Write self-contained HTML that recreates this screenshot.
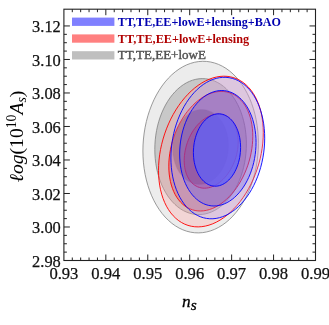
<!DOCTYPE html>
<html><head><meta charset="utf-8"><title>plot</title>
<style>html,body{margin:0;padding:0;background:#fff;}svg{display:block;will-change:transform;}</style>
</head><body>
<svg width="329" height="325" viewBox="0 0 329 325">
<rect width="329" height="325" fill="#fff"/>
<path d="M258.40,143.24 L258.26,137.27 L257.84,131.35 L257.14,125.50 L256.16,119.76 L254.92,114.16 L253.41,108.71 L251.64,103.45 L249.62,98.40 L247.37,93.60 L244.89,89.05 L242.19,84.78 L239.29,80.82 L236.20,77.18 L232.94,73.88 L229.53,70.94 L225.97,68.37 L222.28,66.18 L218.50,64.39 L214.62,63.00 L210.68,62.02 L206.69,61.45 L202.67,61.30 L198.63,61.57 L194.61,62.26 L190.62,63.36 L186.68,64.87 L182.80,66.78 L179.02,69.07 L175.33,71.75 L171.78,74.80 L168.36,78.20 L165.10,81.93 L162.01,85.99 L159.11,90.34 L156.41,94.96 L153.93,99.84 L151.68,104.95 L149.66,110.27 L147.89,115.76 L146.38,121.41 L145.14,127.19 L144.16,133.06 L143.46,138.99 L143.04,144.97 L142.90,150.96 L143.04,156.93 L143.46,162.85 L144.16,168.70 L145.14,174.44 L146.38,180.04 L147.89,185.49 L149.66,190.75 L151.68,195.80 L153.93,200.60 L156.41,205.15 L159.11,209.42 L162.01,213.38 L165.10,217.02 L168.36,220.32 L171.77,223.26 L175.33,225.83 L179.02,228.02 L182.80,229.81 L186.68,231.20 L190.62,232.18 L194.61,232.75 L198.63,232.90 L202.67,232.63 L206.69,231.94 L210.68,230.84 L214.62,229.33 L218.50,227.42 L222.28,225.13 L225.97,222.45 L229.53,219.40 L232.94,216.00 L236.20,212.27 L239.29,208.21 L242.19,203.86 L244.89,199.24 L247.37,194.36 L249.62,189.25 L251.64,183.93 L253.41,178.44 L254.92,172.79 L256.16,167.01 L257.14,161.14 L257.84,155.21 L258.26,149.23ZM246.40,143.88 L246.29,139.15 L245.95,134.45 L245.40,129.81 L244.63,125.26 L243.64,120.81 L242.44,116.48 L241.04,112.30 L239.44,108.29 L237.65,104.46 L235.68,100.84 L233.55,97.44 L231.25,94.29 L228.80,91.38 L226.21,88.75 L223.50,86.40 L220.68,84.34 L217.76,82.58 L214.75,81.14 L211.68,80.01 L208.55,79.21 L205.39,78.74 L202.20,78.60 L199.00,78.79 L195.81,79.31 L192.65,80.16 L189.52,81.33 L186.45,82.82 L183.44,84.62 L180.52,86.72 L177.70,89.12 L174.99,91.79 L172.40,94.73 L169.95,97.93 L167.65,101.36 L165.52,105.01 L163.55,108.86 L161.76,112.90 L160.16,117.10 L158.76,121.45 L157.56,125.92 L156.57,130.49 L155.80,135.13 L155.25,139.84 L154.91,144.57 L154.80,149.32 L154.91,154.05 L155.25,158.75 L155.80,163.39 L156.57,167.94 L157.56,172.39 L158.76,176.72 L160.16,180.90 L161.76,184.91 L163.55,188.74 L165.52,192.36 L167.65,195.76 L169.95,198.91 L172.40,201.82 L174.99,204.45 L177.70,206.80 L180.52,208.86 L183.44,210.62 L186.45,212.06 L189.52,213.19 L192.65,213.99 L195.81,214.46 L199.00,214.60 L202.20,214.41 L205.39,213.89 L208.55,213.04 L211.68,211.87 L214.75,210.38 L217.76,208.58 L220.68,206.48 L223.50,204.08 L226.21,201.41 L228.80,198.47 L231.25,195.27 L233.55,191.84 L235.68,188.19 L237.65,184.34 L239.44,180.30 L241.04,176.10 L242.44,171.75 L243.64,167.28 L244.63,162.71 L245.40,158.07 L245.95,153.36 L246.29,148.63Z" fill="rgb(236,236,236)" fill-opacity="1" fill-rule="evenodd" stroke="none"/>
<path d="M246.40,143.88 L246.29,139.15 L245.95,134.45 L245.40,129.81 L244.63,125.26 L243.64,120.81 L242.44,116.48 L241.04,112.30 L239.44,108.29 L237.65,104.46 L235.68,100.84 L233.55,97.44 L231.25,94.29 L228.80,91.38 L226.21,88.75 L223.50,86.40 L220.68,84.34 L217.76,82.58 L214.75,81.14 L211.68,80.01 L208.55,79.21 L205.39,78.74 L202.20,78.60 L199.00,78.79 L195.81,79.31 L192.65,80.16 L189.52,81.33 L186.45,82.82 L183.44,84.62 L180.52,86.72 L177.70,89.12 L174.99,91.79 L172.40,94.73 L169.95,97.93 L167.65,101.36 L165.52,105.01 L163.55,108.86 L161.76,112.90 L160.16,117.10 L158.76,121.45 L157.56,125.92 L156.57,130.49 L155.80,135.13 L155.25,139.84 L154.91,144.57 L154.80,149.32 L154.91,154.05 L155.25,158.75 L155.80,163.39 L156.57,167.94 L157.56,172.39 L158.76,176.72 L160.16,180.90 L161.76,184.91 L163.55,188.74 L165.52,192.36 L167.65,195.76 L169.95,198.91 L172.40,201.82 L174.99,204.45 L177.70,206.80 L180.52,208.86 L183.44,210.62 L186.45,212.06 L189.52,213.19 L192.65,213.99 L195.81,214.46 L199.00,214.60 L202.20,214.41 L205.39,213.89 L208.55,213.04 L211.68,211.87 L214.75,210.38 L217.76,208.58 L220.68,206.48 L223.50,204.08 L226.21,201.41 L228.80,198.47 L231.25,195.27 L233.55,191.84 L235.68,188.19 L237.65,184.34 L239.44,180.30 L241.04,176.10 L242.44,171.75 L243.64,167.28 L244.63,162.71 L245.40,158.07 L245.95,153.36 L246.29,148.63ZM228.60,145.50 L228.53,142.89 L228.33,140.30 L227.99,137.74 L227.52,135.23 L226.91,132.77 L226.18,130.39 L225.32,128.08 L224.35,125.87 L223.25,123.76 L222.05,121.77 L220.74,119.89 L219.34,118.15 L217.84,116.55 L216.26,115.10 L214.60,113.80 L212.87,112.66 L211.09,111.70 L209.25,110.90 L207.37,110.28 L205.46,109.84 L203.53,109.58 L201.58,109.50 L199.62,109.61 L197.67,109.89 L195.74,110.36 L193.83,111.01 L191.95,111.83 L190.11,112.82 L188.33,113.98 L186.60,115.30 L184.94,116.77 L183.36,118.40 L181.86,120.16 L180.46,122.05 L179.15,124.06 L177.95,126.19 L176.85,128.42 L175.88,130.73 L175.02,133.13 L174.29,135.59 L173.68,138.11 L173.21,140.68 L172.87,143.27 L172.67,145.88 L172.60,148.50 L172.67,151.11 L172.87,153.70 L173.21,156.26 L173.68,158.77 L174.29,161.23 L175.02,163.61 L175.88,165.92 L176.85,168.13 L177.95,170.24 L179.15,172.23 L180.46,174.11 L181.86,175.85 L183.36,177.45 L184.94,178.90 L186.60,180.20 L188.33,181.34 L190.11,182.30 L191.95,183.10 L193.83,183.72 L195.74,184.16 L197.67,184.42 L199.62,184.50 L201.58,184.39 L203.53,184.11 L205.46,183.64 L207.37,182.99 L209.25,182.17 L211.09,181.18 L212.87,180.02 L214.60,178.70 L216.26,177.23 L217.84,175.60 L219.34,173.84 L220.74,171.95 L222.05,169.94 L223.25,167.81 L224.35,165.58 L225.32,163.27 L226.18,160.87 L226.91,158.41 L227.52,155.89 L227.99,153.32 L228.33,150.73 L228.53,148.12Z" fill="rgb(200,200,200)" fill-opacity="1" fill-rule="evenodd" stroke="none"/>
<path d="M228.60,145.50 L228.53,142.89 L228.33,140.30 L227.99,137.74 L227.52,135.23 L226.91,132.77 L226.18,130.39 L225.32,128.08 L224.35,125.87 L223.25,123.76 L222.05,121.77 L220.74,119.89 L219.34,118.15 L217.84,116.55 L216.26,115.10 L214.60,113.80 L212.87,112.66 L211.09,111.70 L209.25,110.90 L207.37,110.28 L205.46,109.84 L203.53,109.58 L201.58,109.50 L199.62,109.61 L197.67,109.89 L195.74,110.36 L193.83,111.01 L191.95,111.83 L190.11,112.82 L188.33,113.98 L186.60,115.30 L184.94,116.77 L183.36,118.40 L181.86,120.16 L180.46,122.05 L179.15,124.06 L177.95,126.19 L176.85,128.42 L175.88,130.73 L175.02,133.13 L174.29,135.59 L173.68,138.11 L173.21,140.68 L172.87,143.27 L172.67,145.88 L172.60,148.50 L172.67,151.11 L172.87,153.70 L173.21,156.26 L173.68,158.77 L174.29,161.23 L175.02,163.61 L175.88,165.92 L176.85,168.13 L177.95,170.24 L179.15,172.23 L180.46,174.11 L181.86,175.85 L183.36,177.45 L184.94,178.90 L186.60,180.20 L188.33,181.34 L190.11,182.30 L191.95,183.10 L193.83,183.72 L195.74,184.16 L197.67,184.42 L199.62,184.50 L201.58,184.39 L203.53,184.11 L205.46,183.64 L207.37,182.99 L209.25,182.17 L211.09,181.18 L212.87,180.02 L214.60,178.70 L216.26,177.23 L217.84,175.60 L219.34,173.84 L220.74,171.95 L222.05,169.94 L223.25,167.81 L224.35,165.58 L225.32,163.27 L226.18,160.87 L226.91,158.41 L227.52,155.89 L227.99,153.32 L228.33,150.73 L228.53,148.12Z" fill="rgb(142,142,142)" fill-opacity="1" fill-rule="evenodd" stroke="none"/>
<path d="M258.40,143.24 L258.26,137.27 L257.84,131.35 L257.14,125.50 L256.16,119.76 L254.92,114.16 L253.41,108.71 L251.64,103.45 L249.62,98.40 L247.37,93.60 L244.89,89.05 L242.19,84.78 L239.29,80.82 L236.20,77.18 L232.94,73.88 L229.53,70.94 L225.97,68.37 L222.28,66.18 L218.50,64.39 L214.62,63.00 L210.68,62.02 L206.69,61.45 L202.67,61.30 L198.63,61.57 L194.61,62.26 L190.62,63.36 L186.68,64.87 L182.80,66.78 L179.02,69.07 L175.33,71.75 L171.78,74.80 L168.36,78.20 L165.10,81.93 L162.01,85.99 L159.11,90.34 L156.41,94.96 L153.93,99.84 L151.68,104.95 L149.66,110.27 L147.89,115.76 L146.38,121.41 L145.14,127.19 L144.16,133.06 L143.46,138.99 L143.04,144.97 L142.90,150.96 L143.04,156.93 L143.46,162.85 L144.16,168.70 L145.14,174.44 L146.38,180.04 L147.89,185.49 L149.66,190.75 L151.68,195.80 L153.93,200.60 L156.41,205.15 L159.11,209.42 L162.01,213.38 L165.10,217.02 L168.36,220.32 L171.77,223.26 L175.33,225.83 L179.02,228.02 L182.80,229.81 L186.68,231.20 L190.62,232.18 L194.61,232.75 L198.63,232.90 L202.67,232.63 L206.69,231.94 L210.68,230.84 L214.62,229.33 L218.50,227.42 L222.28,225.13 L225.97,222.45 L229.53,219.40 L232.94,216.00 L236.20,212.27 L239.29,208.21 L242.19,203.86 L244.89,199.24 L247.37,194.36 L249.62,189.25 L251.64,183.93 L253.41,178.44 L254.92,172.79 L256.16,167.01 L257.14,161.14 L257.84,155.21 L258.26,149.23Z" fill="none" stroke="rgb(130,130,130)" stroke-opacity="1" stroke-width="0.8"/>
<path d="M246.40,143.88 L246.29,139.15 L245.95,134.45 L245.40,129.81 L244.63,125.26 L243.64,120.81 L242.44,116.48 L241.04,112.30 L239.44,108.29 L237.65,104.46 L235.68,100.84 L233.55,97.44 L231.25,94.29 L228.80,91.38 L226.21,88.75 L223.50,86.40 L220.68,84.34 L217.76,82.58 L214.75,81.14 L211.68,80.01 L208.55,79.21 L205.39,78.74 L202.20,78.60 L199.00,78.79 L195.81,79.31 L192.65,80.16 L189.52,81.33 L186.45,82.82 L183.44,84.62 L180.52,86.72 L177.70,89.12 L174.99,91.79 L172.40,94.73 L169.95,97.93 L167.65,101.36 L165.52,105.01 L163.55,108.86 L161.76,112.90 L160.16,117.10 L158.76,121.45 L157.56,125.92 L156.57,130.49 L155.80,135.13 L155.25,139.84 L154.91,144.57 L154.80,149.32 L154.91,154.05 L155.25,158.75 L155.80,163.39 L156.57,167.94 L157.56,172.39 L158.76,176.72 L160.16,180.90 L161.76,184.91 L163.55,188.74 L165.52,192.36 L167.65,195.76 L169.95,198.91 L172.40,201.82 L174.99,204.45 L177.70,206.80 L180.52,208.86 L183.44,210.62 L186.45,212.06 L189.52,213.19 L192.65,213.99 L195.81,214.46 L199.00,214.60 L202.20,214.41 L205.39,213.89 L208.55,213.04 L211.68,211.87 L214.75,210.38 L217.76,208.58 L220.68,206.48 L223.50,204.08 L226.21,201.41 L228.80,198.47 L231.25,195.27 L233.55,191.84 L235.68,188.19 L237.65,184.34 L239.44,180.30 L241.04,176.10 L242.44,171.75 L243.64,167.28 L244.63,162.71 L245.40,158.07 L245.95,153.36 L246.29,148.63Z" fill="none" stroke="rgb(125,125,125)" stroke-opacity="1" stroke-width="0.8"/>
<path d="M228.60,145.50 L228.53,142.89 L228.33,140.30 L227.99,137.74 L227.52,135.23 L226.91,132.77 L226.18,130.39 L225.32,128.08 L224.35,125.87 L223.25,123.76 L222.05,121.77 L220.74,119.89 L219.34,118.15 L217.84,116.55 L216.26,115.10 L214.60,113.80 L212.87,112.66 L211.09,111.70 L209.25,110.90 L207.37,110.28 L205.46,109.84 L203.53,109.58 L201.58,109.50 L199.62,109.61 L197.67,109.89 L195.74,110.36 L193.83,111.01 L191.95,111.83 L190.11,112.82 L188.33,113.98 L186.60,115.30 L184.94,116.77 L183.36,118.40 L181.86,120.16 L180.46,122.05 L179.15,124.06 L177.95,126.19 L176.85,128.42 L175.88,130.73 L175.02,133.13 L174.29,135.59 L173.68,138.11 L173.21,140.68 L172.87,143.27 L172.67,145.88 L172.60,148.50 L172.67,151.11 L172.87,153.70 L173.21,156.26 L173.68,158.77 L174.29,161.23 L175.02,163.61 L175.88,165.92 L176.85,168.13 L177.95,170.24 L179.15,172.23 L180.46,174.11 L181.86,175.85 L183.36,177.45 L184.94,178.90 L186.60,180.20 L188.33,181.34 L190.11,182.30 L191.95,183.10 L193.83,183.72 L195.74,184.16 L197.67,184.42 L199.62,184.50 L201.58,184.39 L203.53,184.11 L205.46,183.64 L207.37,182.99 L209.25,182.17 L211.09,181.18 L212.87,180.02 L214.60,178.70 L216.26,177.23 L217.84,175.60 L219.34,173.84 L220.74,171.95 L222.05,169.94 L223.25,167.81 L224.35,165.58 L225.32,163.27 L226.18,160.87 L226.91,158.41 L227.52,155.89 L227.99,153.32 L228.33,150.73 L228.53,148.12Z" fill="none" stroke="rgb(120,120,120)" stroke-opacity="1" stroke-width="0.3"/>
<path d="M263.30,132.71 L263.17,127.67 L262.79,122.74 L262.15,117.96 L261.27,113.33 L260.14,108.90 L258.77,104.67 L257.17,100.67 L255.34,96.91 L253.29,93.43 L251.04,90.22 L248.59,87.32 L245.96,84.73 L243.16,82.46 L240.20,80.53 L237.10,78.95 L233.87,77.72 L230.53,76.85 L227.09,76.34 L223.58,76.20 L220.00,76.43 L216.38,77.02 L212.73,77.98 L209.07,79.29 L205.42,80.96 L201.80,82.97 L198.22,85.32 L194.71,87.98 L191.27,90.96 L187.93,94.23 L184.70,97.79 L181.60,101.60 L178.64,105.66 L175.84,109.94 L173.21,114.42 L170.76,119.08 L168.51,123.91 L166.46,128.86 L164.63,133.93 L163.03,139.08 L161.66,144.30 L160.53,149.55 L159.65,154.81 L159.01,160.05 L158.63,165.25 L158.50,170.39 L158.63,175.43 L159.01,180.36 L159.65,185.14 L160.53,189.77 L161.66,194.20 L163.03,198.43 L164.63,202.43 L166.46,206.19 L168.51,209.67 L170.76,212.88 L173.21,215.78 L175.84,218.37 L178.64,220.64 L181.60,222.57 L184.70,224.15 L187.93,225.38 L191.27,226.25 L194.71,226.76 L198.22,226.90 L201.80,226.67 L205.42,226.08 L209.07,225.12 L212.73,223.81 L216.38,222.14 L220.00,220.13 L223.58,217.78 L227.09,215.12 L230.53,212.14 L233.87,208.87 L237.10,205.31 L240.20,201.50 L243.16,197.44 L245.96,193.16 L248.59,188.68 L251.04,184.02 L253.29,179.19 L255.34,174.24 L257.17,169.17 L258.77,164.02 L260.14,158.80 L261.27,153.55 L262.15,148.29 L262.79,143.05 L263.17,137.85ZM252.80,136.25 L252.70,132.25 L252.39,128.34 L251.88,124.54 L251.17,120.87 L250.27,117.35 L249.17,113.99 L247.88,110.82 L246.42,107.84 L244.78,105.07 L242.97,102.53 L241.01,100.22 L238.90,98.17 L236.66,96.37 L234.29,94.84 L231.80,93.58 L229.21,92.61 L226.53,91.91 L223.78,91.51 L220.96,91.40 L218.09,91.58 L215.19,92.05 L212.27,92.81 L209.33,93.86 L206.41,95.18 L203.51,96.77 L200.64,98.64 L197.82,100.75 L195.07,103.12 L192.39,105.71 L189.80,108.53 L187.31,111.56 L184.94,114.78 L182.70,118.17 L180.59,121.73 L178.63,125.43 L176.82,129.26 L175.18,133.20 L173.72,137.22 L172.43,141.31 L171.33,145.45 L170.43,149.61 L169.72,153.78 L169.21,157.95 L168.90,162.07 L168.80,166.15 L168.90,170.15 L169.21,174.06 L169.72,177.86 L170.43,181.53 L171.33,185.05 L172.43,188.41 L173.72,191.58 L175.18,194.56 L176.82,197.33 L178.63,199.87 L180.59,202.18 L182.70,204.23 L184.94,206.03 L187.31,207.56 L189.80,208.82 L192.39,209.79 L195.07,210.49 L197.82,210.89 L200.64,211.00 L203.51,210.82 L206.41,210.35 L209.33,209.59 L212.27,208.54 L215.19,207.22 L218.09,205.63 L220.96,203.76 L223.78,201.65 L226.53,199.28 L229.21,196.69 L231.80,193.87 L234.29,190.84 L236.66,187.62 L238.90,184.23 L241.01,180.67 L242.97,176.97 L244.78,173.14 L246.42,169.20 L247.88,165.18 L249.17,161.09 L250.27,156.95 L251.17,152.79 L251.88,148.62 L252.39,144.45 L252.70,140.33Z" fill="rgb(255,160,160)" fill-opacity="0.3" fill-rule="evenodd" stroke="none"/>
<path d="M252.80,136.25 L252.70,132.25 L252.39,128.34 L251.88,124.54 L251.17,120.87 L250.27,117.35 L249.17,113.99 L247.88,110.82 L246.42,107.84 L244.78,105.07 L242.97,102.53 L241.01,100.22 L238.90,98.17 L236.66,96.37 L234.29,94.84 L231.80,93.58 L229.21,92.61 L226.53,91.91 L223.78,91.51 L220.96,91.40 L218.09,91.58 L215.19,92.05 L212.27,92.81 L209.33,93.86 L206.41,95.18 L203.51,96.77 L200.64,98.64 L197.82,100.75 L195.07,103.12 L192.39,105.71 L189.80,108.53 L187.31,111.56 L184.94,114.78 L182.70,118.17 L180.59,121.73 L178.63,125.43 L176.82,129.26 L175.18,133.20 L173.72,137.22 L172.43,141.31 L171.33,145.45 L170.43,149.61 L169.72,153.78 L169.21,157.95 L168.90,162.07 L168.80,166.15 L168.90,170.15 L169.21,174.06 L169.72,177.86 L170.43,181.53 L171.33,185.05 L172.43,188.41 L173.72,191.58 L175.18,194.56 L176.82,197.33 L178.63,199.87 L180.59,202.18 L182.70,204.23 L184.94,206.03 L187.31,207.56 L189.80,208.82 L192.39,209.79 L195.07,210.49 L197.82,210.89 L200.64,211.00 L203.51,210.82 L206.41,210.35 L209.33,209.59 L212.27,208.54 L215.19,207.22 L218.09,205.63 L220.96,203.76 L223.78,201.65 L226.53,199.28 L229.21,196.69 L231.80,193.87 L234.29,190.84 L236.66,187.62 L238.90,184.23 L241.01,180.67 L242.97,176.97 L244.78,173.14 L246.42,169.20 L247.88,165.18 L249.17,161.09 L250.27,156.95 L251.17,152.79 L251.88,148.62 L252.39,144.45 L252.70,140.33ZM238.20,141.95 L238.13,139.47 L237.94,137.05 L237.61,134.70 L237.15,132.43 L236.57,130.25 L235.87,128.18 L235.04,126.21 L234.10,124.37 L233.04,122.66 L231.88,121.09 L230.62,119.66 L229.27,118.39 L227.82,117.27 L226.30,116.33 L224.70,115.55 L223.04,114.95 L221.31,114.52 L219.54,114.27 L217.73,114.20 L215.89,114.31 L214.02,114.60 L212.14,115.07 L210.26,115.72 L208.38,116.54 L206.51,117.53 L204.67,118.68 L202.86,119.99 L201.09,121.45 L199.36,123.06 L197.70,124.80 L196.10,126.67 L194.58,128.66 L193.13,130.77 L191.78,132.97 L190.52,135.26 L189.36,137.63 L188.30,140.06 L187.36,142.55 L186.53,145.08 L185.83,147.64 L185.25,150.22 L184.79,152.80 L184.46,155.37 L184.27,157.93 L184.20,160.45 L184.27,162.93 L184.46,165.35 L184.79,167.70 L185.25,169.97 L185.83,172.15 L186.53,174.22 L187.36,176.19 L188.30,178.03 L189.36,179.74 L190.52,181.31 L191.78,182.74 L193.13,184.01 L194.58,185.13 L196.10,186.07 L197.70,186.85 L199.36,187.45 L201.09,187.88 L202.86,188.13 L204.67,188.20 L206.51,188.09 L208.38,187.80 L210.26,187.33 L212.14,186.68 L214.02,185.86 L215.89,184.87 L217.73,183.72 L219.54,182.41 L221.31,180.95 L223.04,179.34 L224.70,177.60 L226.30,175.73 L227.82,173.74 L229.27,171.63 L230.62,169.43 L231.88,167.14 L233.04,164.77 L234.10,162.34 L235.04,159.85 L235.87,157.32 L236.57,154.76 L237.15,152.18 L237.61,149.60 L237.94,147.03 L238.13,144.47Z" fill="rgb(235,70,85)" fill-opacity="0.4" fill-rule="evenodd" stroke="none"/>
<path d="M238.20,141.95 L238.13,139.47 L237.94,137.05 L237.61,134.70 L237.15,132.43 L236.57,130.25 L235.87,128.18 L235.04,126.21 L234.10,124.37 L233.04,122.66 L231.88,121.09 L230.62,119.66 L229.27,118.39 L227.82,117.27 L226.30,116.33 L224.70,115.55 L223.04,114.95 L221.31,114.52 L219.54,114.27 L217.73,114.20 L215.89,114.31 L214.02,114.60 L212.14,115.07 L210.26,115.72 L208.38,116.54 L206.51,117.53 L204.67,118.68 L202.86,119.99 L201.09,121.45 L199.36,123.06 L197.70,124.80 L196.10,126.67 L194.58,128.66 L193.13,130.77 L191.78,132.97 L190.52,135.26 L189.36,137.63 L188.30,140.06 L187.36,142.55 L186.53,145.08 L185.83,147.64 L185.25,150.22 L184.79,152.80 L184.46,155.37 L184.27,157.93 L184.20,160.45 L184.27,162.93 L184.46,165.35 L184.79,167.70 L185.25,169.97 L185.83,172.15 L186.53,174.22 L187.36,176.19 L188.30,178.03 L189.36,179.74 L190.52,181.31 L191.78,182.74 L193.13,184.01 L194.58,185.13 L196.10,186.07 L197.70,186.85 L199.36,187.45 L201.09,187.88 L202.86,188.13 L204.67,188.20 L206.51,188.09 L208.38,187.80 L210.26,187.33 L212.14,186.68 L214.02,185.86 L215.89,184.87 L217.73,183.72 L219.54,182.41 L221.31,180.95 L223.04,179.34 L224.70,177.60 L226.30,175.73 L227.82,173.74 L229.27,171.63 L230.62,169.43 L231.88,167.14 L233.04,164.77 L234.10,162.34 L235.04,159.85 L235.87,157.32 L236.57,154.76 L237.15,152.18 L237.61,149.60 L237.94,147.03 L238.13,144.47Z" fill="rgb(235,25,55)" fill-opacity="0.48" fill-rule="evenodd" stroke="none"/>
<path d="M263.30,132.71 L263.17,127.67 L262.79,122.74 L262.15,117.96 L261.27,113.33 L260.14,108.90 L258.77,104.67 L257.17,100.67 L255.34,96.91 L253.29,93.43 L251.04,90.22 L248.59,87.32 L245.96,84.73 L243.16,82.46 L240.20,80.53 L237.10,78.95 L233.87,77.72 L230.53,76.85 L227.09,76.34 L223.58,76.20 L220.00,76.43 L216.38,77.02 L212.73,77.98 L209.07,79.29 L205.42,80.96 L201.80,82.97 L198.22,85.32 L194.71,87.98 L191.27,90.96 L187.93,94.23 L184.70,97.79 L181.60,101.60 L178.64,105.66 L175.84,109.94 L173.21,114.42 L170.76,119.08 L168.51,123.91 L166.46,128.86 L164.63,133.93 L163.03,139.08 L161.66,144.30 L160.53,149.55 L159.65,154.81 L159.01,160.05 L158.63,165.25 L158.50,170.39 L158.63,175.43 L159.01,180.36 L159.65,185.14 L160.53,189.77 L161.66,194.20 L163.03,198.43 L164.63,202.43 L166.46,206.19 L168.51,209.67 L170.76,212.88 L173.21,215.78 L175.84,218.37 L178.64,220.64 L181.60,222.57 L184.70,224.15 L187.93,225.38 L191.27,226.25 L194.71,226.76 L198.22,226.90 L201.80,226.67 L205.42,226.08 L209.07,225.12 L212.73,223.81 L216.38,222.14 L220.00,220.13 L223.58,217.78 L227.09,215.12 L230.53,212.14 L233.87,208.87 L237.10,205.31 L240.20,201.50 L243.16,197.44 L245.96,193.16 L248.59,188.68 L251.04,184.02 L253.29,179.19 L255.34,174.24 L257.17,169.17 L258.77,164.02 L260.14,158.80 L261.27,153.55 L262.15,148.29 L262.79,143.05 L263.17,137.85Z" fill="none" stroke="rgb(255,0,0)" stroke-opacity="1" stroke-width="0.9"/>
<path d="M252.80,136.25 L252.70,132.25 L252.39,128.34 L251.88,124.54 L251.17,120.87 L250.27,117.35 L249.17,113.99 L247.88,110.82 L246.42,107.84 L244.78,105.07 L242.97,102.53 L241.01,100.22 L238.90,98.17 L236.66,96.37 L234.29,94.84 L231.80,93.58 L229.21,92.61 L226.53,91.91 L223.78,91.51 L220.96,91.40 L218.09,91.58 L215.19,92.05 L212.27,92.81 L209.33,93.86 L206.41,95.18 L203.51,96.77 L200.64,98.64 L197.82,100.75 L195.07,103.12 L192.39,105.71 L189.80,108.53 L187.31,111.56 L184.94,114.78 L182.70,118.17 L180.59,121.73 L178.63,125.43 L176.82,129.26 L175.18,133.20 L173.72,137.22 L172.43,141.31 L171.33,145.45 L170.43,149.61 L169.72,153.78 L169.21,157.95 L168.90,162.07 L168.80,166.15 L168.90,170.15 L169.21,174.06 L169.72,177.86 L170.43,181.53 L171.33,185.05 L172.43,188.41 L173.72,191.58 L175.18,194.56 L176.82,197.33 L178.63,199.87 L180.59,202.18 L182.70,204.23 L184.94,206.03 L187.31,207.56 L189.80,208.82 L192.39,209.79 L195.07,210.49 L197.82,210.89 L200.64,211.00 L203.51,210.82 L206.41,210.35 L209.33,209.59 L212.27,208.54 L215.19,207.22 L218.09,205.63 L220.96,203.76 L223.78,201.65 L226.53,199.28 L229.21,196.69 L231.80,193.87 L234.29,190.84 L236.66,187.62 L238.90,184.23 L241.01,180.67 L242.97,176.97 L244.78,173.14 L246.42,169.20 L247.88,165.18 L249.17,161.09 L250.27,156.95 L251.17,152.79 L251.88,148.62 L252.39,144.45 L252.70,140.33Z" fill="none" stroke="rgb(255,0,0)" stroke-opacity="1" stroke-width="0.9"/>
<path d="M238.20,141.95 L238.13,139.47 L237.94,137.05 L237.61,134.70 L237.15,132.43 L236.57,130.25 L235.87,128.18 L235.04,126.21 L234.10,124.37 L233.04,122.66 L231.88,121.09 L230.62,119.66 L229.27,118.39 L227.82,117.27 L226.30,116.33 L224.70,115.55 L223.04,114.95 L221.31,114.52 L219.54,114.27 L217.73,114.20 L215.89,114.31 L214.02,114.60 L212.14,115.07 L210.26,115.72 L208.38,116.54 L206.51,117.53 L204.67,118.68 L202.86,119.99 L201.09,121.45 L199.36,123.06 L197.70,124.80 L196.10,126.67 L194.58,128.66 L193.13,130.77 L191.78,132.97 L190.52,135.26 L189.36,137.63 L188.30,140.06 L187.36,142.55 L186.53,145.08 L185.83,147.64 L185.25,150.22 L184.79,152.80 L184.46,155.37 L184.27,157.93 L184.20,160.45 L184.27,162.93 L184.46,165.35 L184.79,167.70 L185.25,169.97 L185.83,172.15 L186.53,174.22 L187.36,176.19 L188.30,178.03 L189.36,179.74 L190.52,181.31 L191.78,182.74 L193.13,184.01 L194.58,185.13 L196.10,186.07 L197.70,186.85 L199.36,187.45 L201.09,187.88 L202.86,188.13 L204.67,188.20 L206.51,188.09 L208.38,187.80 L210.26,187.33 L212.14,186.68 L214.02,185.86 L215.89,184.87 L217.73,183.72 L219.54,182.41 L221.31,180.95 L223.04,179.34 L224.70,177.60 L226.30,175.73 L227.82,173.74 L229.27,171.63 L230.62,169.43 L231.88,167.14 L233.04,164.77 L234.10,162.34 L235.04,159.85 L235.87,157.32 L236.57,154.76 L237.15,152.18 L237.61,149.60 L237.94,147.03 L238.13,144.47Z" fill="none" stroke="rgb(230,0,30)" stroke-opacity="1" stroke-width="0.9"/>
<path d="M264.70,138.15 L264.59,133.28 L264.24,128.49 L263.68,123.80 L262.88,119.22 L261.87,114.78 L260.65,110.51 L259.21,106.42 L257.57,102.53 L255.74,98.86 L253.73,95.43 L251.54,92.26 L249.18,89.36 L246.67,86.75 L244.03,84.43 L241.25,82.43 L238.36,80.74 L235.37,79.39 L232.29,78.36 L229.15,77.68 L225.94,77.34 L222.70,77.35 L219.44,77.69 L216.16,78.39 L212.90,79.42 L209.66,80.78 L206.45,82.47 L203.31,84.49 L200.23,86.81 L197.24,89.43 L194.35,92.33 L191.57,95.51 L188.93,98.95 L186.42,102.62 L184.06,106.51 L181.87,110.61 L179.86,114.89 L178.03,119.33 L176.39,123.91 L174.95,128.61 L173.73,133.40 L172.72,138.26 L171.92,143.17 L171.36,148.11 L171.01,153.04 L170.90,157.96 L171.01,162.82 L171.36,167.61 L171.92,172.30 L172.72,176.88 L173.73,181.32 L174.95,185.59 L176.39,189.68 L178.03,193.57 L179.86,197.24 L181.87,200.67 L184.06,203.84 L186.42,206.74 L188.93,209.35 L191.57,211.67 L194.35,213.67 L197.24,215.36 L200.23,216.71 L203.31,217.74 L206.45,218.42 L209.66,218.76 L212.90,218.75 L216.16,218.41 L219.44,217.71 L222.70,216.68 L225.94,215.32 L229.15,213.63 L232.29,211.61 L235.37,209.29 L238.36,206.67 L241.25,203.77 L244.03,200.59 L246.67,197.15 L249.18,193.48 L251.54,189.59 L253.73,185.49 L255.74,181.21 L257.57,176.77 L259.21,172.19 L260.65,167.49 L261.87,162.70 L262.88,157.84 L263.68,152.93 L264.24,147.99 L264.59,143.06ZM256.05,142.47 L255.96,138.48 L255.68,134.53 L255.22,130.65 L254.57,126.86 L253.75,123.17 L252.75,119.60 L251.58,116.17 L250.25,112.90 L248.75,109.80 L247.11,106.89 L245.33,104.18 L243.41,101.68 L241.37,99.42 L239.21,97.38 L236.95,95.60 L234.60,94.07 L232.16,92.81 L229.65,91.82 L227.09,91.10 L224.48,90.66 L221.84,90.50 L219.18,90.62 L216.52,91.03 L213.86,91.71 L211.22,92.67 L208.61,93.89 L206.05,95.39 L203.54,97.14 L201.10,99.14 L198.75,101.38 L196.49,103.84 L194.33,106.53 L192.29,109.41 L190.37,112.49 L188.59,115.74 L186.95,119.15 L185.45,122.70 L184.12,126.37 L182.95,130.15 L181.95,134.02 L181.13,137.96 L180.48,141.95 L180.02,145.97 L179.74,150.00 L179.65,154.03 L179.74,158.02 L180.02,161.97 L180.48,165.85 L181.13,169.64 L181.95,173.33 L182.95,176.90 L184.12,180.33 L185.45,183.60 L186.95,186.70 L188.59,189.61 L190.37,192.32 L192.29,194.82 L194.33,197.08 L196.49,199.12 L198.75,200.90 L201.10,202.43 L203.54,203.69 L206.05,204.68 L208.61,205.40 L211.22,205.84 L213.86,206.00 L216.52,205.88 L219.18,205.47 L221.84,204.79 L224.48,203.83 L227.09,202.61 L229.65,201.11 L232.16,199.36 L234.60,197.36 L236.95,195.12 L239.21,192.66 L241.37,189.97 L243.41,187.09 L245.33,184.01 L247.11,180.76 L248.75,177.35 L250.25,173.80 L251.58,170.13 L252.75,166.35 L253.75,162.48 L254.57,158.54 L255.22,154.55 L255.68,150.53 L255.96,146.50Z" fill="rgb(160,160,255)" fill-opacity="0.25" fill-rule="evenodd" stroke="none"/>
<path d="M256.05,142.47 L255.96,138.48 L255.68,134.53 L255.22,130.65 L254.57,126.86 L253.75,123.17 L252.75,119.60 L251.58,116.17 L250.25,112.90 L248.75,109.80 L247.11,106.89 L245.33,104.18 L243.41,101.68 L241.37,99.42 L239.21,97.38 L236.95,95.60 L234.60,94.07 L232.16,92.81 L229.65,91.82 L227.09,91.10 L224.48,90.66 L221.84,90.50 L219.18,90.62 L216.52,91.03 L213.86,91.71 L211.22,92.67 L208.61,93.89 L206.05,95.39 L203.54,97.14 L201.10,99.14 L198.75,101.38 L196.49,103.84 L194.33,106.53 L192.29,109.41 L190.37,112.49 L188.59,115.74 L186.95,119.15 L185.45,122.70 L184.12,126.37 L182.95,130.15 L181.95,134.02 L181.13,137.96 L180.48,141.95 L180.02,145.97 L179.74,150.00 L179.65,154.03 L179.74,158.02 L180.02,161.97 L180.48,165.85 L181.13,169.64 L181.95,173.33 L182.95,176.90 L184.12,180.33 L185.45,183.60 L186.95,186.70 L188.59,189.61 L190.37,192.32 L192.29,194.82 L194.33,197.08 L196.49,199.12 L198.75,200.90 L201.10,202.43 L203.54,203.69 L206.05,204.68 L208.61,205.40 L211.22,205.84 L213.86,206.00 L216.52,205.88 L219.18,205.47 L221.84,204.79 L224.48,203.83 L227.09,202.61 L229.65,201.11 L232.16,199.36 L234.60,197.36 L236.95,195.12 L239.21,192.66 L241.37,189.97 L243.41,187.09 L245.33,184.01 L247.11,180.76 L248.75,177.35 L250.25,173.80 L251.58,170.13 L252.75,166.35 L253.75,162.48 L254.57,158.54 L255.22,154.55 L255.68,150.53 L255.96,146.50ZM240.60,147.47 L240.54,144.95 L240.37,142.46 L240.08,140.01 L239.69,137.61 L239.18,135.27 L238.56,133.00 L237.84,130.81 L237.01,128.72 L236.09,126.72 L235.08,124.85 L233.98,123.09 L232.79,121.47 L231.53,119.98 L230.20,118.65 L228.80,117.46 L227.35,116.43 L225.84,115.57 L224.29,114.87 L222.71,114.35 L221.10,114.00 L219.47,113.82 L217.82,113.82 L216.18,114.00 L214.53,114.35 L212.90,114.88 L211.29,115.57 L209.71,116.44 L208.16,117.47 L206.65,118.65 L205.20,119.99 L203.80,121.48 L202.47,123.10 L201.21,124.86 L200.02,126.74 L198.92,128.73 L197.91,130.82 L196.99,133.01 L196.16,135.28 L195.44,137.63 L194.82,140.03 L194.31,142.48 L193.92,144.97 L193.63,147.48 L193.46,150.01 L193.40,152.53 L193.46,155.05 L193.63,157.54 L193.92,159.99 L194.31,162.39 L194.82,164.73 L195.44,167.00 L196.16,169.19 L196.99,171.28 L197.91,173.28 L198.92,175.15 L200.02,176.91 L201.21,178.53 L202.47,180.02 L203.80,181.35 L205.20,182.54 L206.65,183.57 L208.16,184.43 L209.71,185.13 L211.29,185.65 L212.90,186.00 L214.53,186.18 L216.18,186.18 L217.82,186.00 L219.47,185.65 L221.10,185.12 L222.71,184.43 L224.29,183.56 L225.84,182.53 L227.35,181.35 L228.80,180.01 L230.20,178.52 L231.53,176.90 L232.79,175.14 L233.98,173.26 L235.08,171.27 L236.09,169.18 L237.01,166.99 L237.84,164.72 L238.56,162.37 L239.18,159.97 L239.69,157.52 L240.08,155.03 L240.37,152.52 L240.54,149.99Z" fill="rgb(100,100,255)" fill-opacity="0.42" fill-rule="evenodd" stroke="none"/>
<path d="M240.60,147.47 L240.54,144.95 L240.37,142.46 L240.08,140.01 L239.69,137.61 L239.18,135.27 L238.56,133.00 L237.84,130.81 L237.01,128.72 L236.09,126.72 L235.08,124.85 L233.98,123.09 L232.79,121.47 L231.53,119.98 L230.20,118.65 L228.80,117.46 L227.35,116.43 L225.84,115.57 L224.29,114.87 L222.71,114.35 L221.10,114.00 L219.47,113.82 L217.82,113.82 L216.18,114.00 L214.53,114.35 L212.90,114.88 L211.29,115.57 L209.71,116.44 L208.16,117.47 L206.65,118.65 L205.20,119.99 L203.80,121.48 L202.47,123.10 L201.21,124.86 L200.02,126.74 L198.92,128.73 L197.91,130.82 L196.99,133.01 L196.16,135.28 L195.44,137.63 L194.82,140.03 L194.31,142.48 L193.92,144.97 L193.63,147.48 L193.46,150.01 L193.40,152.53 L193.46,155.05 L193.63,157.54 L193.92,159.99 L194.31,162.39 L194.82,164.73 L195.44,167.00 L196.16,169.19 L196.99,171.28 L197.91,173.28 L198.92,175.15 L200.02,176.91 L201.21,178.53 L202.47,180.02 L203.80,181.35 L205.20,182.54 L206.65,183.57 L208.16,184.43 L209.71,185.13 L211.29,185.65 L212.90,186.00 L214.53,186.18 L216.18,186.18 L217.82,186.00 L219.47,185.65 L221.10,185.12 L222.71,184.43 L224.29,183.56 L225.84,182.53 L227.35,181.35 L228.80,180.01 L230.20,178.52 L231.53,176.90 L232.79,175.14 L233.98,173.26 L235.08,171.27 L236.09,169.18 L237.01,166.99 L237.84,164.72 L238.56,162.37 L239.18,159.97 L239.69,157.52 L240.08,155.03 L240.37,152.52 L240.54,149.99Z" fill="rgb(95,98,250)" fill-opacity="0.85" fill-rule="evenodd" stroke="none"/>
<path d="M264.70,138.15 L264.59,133.28 L264.24,128.49 L263.68,123.80 L262.88,119.22 L261.87,114.78 L260.65,110.51 L259.21,106.42 L257.57,102.53 L255.74,98.86 L253.73,95.43 L251.54,92.26 L249.18,89.36 L246.67,86.75 L244.03,84.43 L241.25,82.43 L238.36,80.74 L235.37,79.39 L232.29,78.36 L229.15,77.68 L225.94,77.34 L222.70,77.35 L219.44,77.69 L216.16,78.39 L212.90,79.42 L209.66,80.78 L206.45,82.47 L203.31,84.49 L200.23,86.81 L197.24,89.43 L194.35,92.33 L191.57,95.51 L188.93,98.95 L186.42,102.62 L184.06,106.51 L181.87,110.61 L179.86,114.89 L178.03,119.33 L176.39,123.91 L174.95,128.61 L173.73,133.40 L172.72,138.26 L171.92,143.17 L171.36,148.11 L171.01,153.04 L170.90,157.96 L171.01,162.82 L171.36,167.61 L171.92,172.30 L172.72,176.88 L173.73,181.32 L174.95,185.59 L176.39,189.68 L178.03,193.57 L179.86,197.24 L181.87,200.67 L184.06,203.84 L186.42,206.74 L188.93,209.35 L191.57,211.67 L194.35,213.67 L197.24,215.36 L200.23,216.71 L203.31,217.74 L206.45,218.42 L209.66,218.76 L212.90,218.75 L216.16,218.41 L219.44,217.71 L222.70,216.68 L225.94,215.32 L229.15,213.63 L232.29,211.61 L235.37,209.29 L238.36,206.67 L241.25,203.77 L244.03,200.59 L246.67,197.15 L249.18,193.48 L251.54,189.59 L253.73,185.49 L255.74,181.21 L257.57,176.77 L259.21,172.19 L260.65,167.49 L261.87,162.70 L262.88,157.84 L263.68,152.93 L264.24,147.99 L264.59,143.06Z" fill="none" stroke="rgb(0,0,255)" stroke-opacity="1" stroke-width="0.9"/>
<path d="M256.05,142.47 L255.96,138.48 L255.68,134.53 L255.22,130.65 L254.57,126.86 L253.75,123.17 L252.75,119.60 L251.58,116.17 L250.25,112.90 L248.75,109.80 L247.11,106.89 L245.33,104.18 L243.41,101.68 L241.37,99.42 L239.21,97.38 L236.95,95.60 L234.60,94.07 L232.16,92.81 L229.65,91.82 L227.09,91.10 L224.48,90.66 L221.84,90.50 L219.18,90.62 L216.52,91.03 L213.86,91.71 L211.22,92.67 L208.61,93.89 L206.05,95.39 L203.54,97.14 L201.10,99.14 L198.75,101.38 L196.49,103.84 L194.33,106.53 L192.29,109.41 L190.37,112.49 L188.59,115.74 L186.95,119.15 L185.45,122.70 L184.12,126.37 L182.95,130.15 L181.95,134.02 L181.13,137.96 L180.48,141.95 L180.02,145.97 L179.74,150.00 L179.65,154.03 L179.74,158.02 L180.02,161.97 L180.48,165.85 L181.13,169.64 L181.95,173.33 L182.95,176.90 L184.12,180.33 L185.45,183.60 L186.95,186.70 L188.59,189.61 L190.37,192.32 L192.29,194.82 L194.33,197.08 L196.49,199.12 L198.75,200.90 L201.10,202.43 L203.54,203.69 L206.05,204.68 L208.61,205.40 L211.22,205.84 L213.86,206.00 L216.52,205.88 L219.18,205.47 L221.84,204.79 L224.48,203.83 L227.09,202.61 L229.65,201.11 L232.16,199.36 L234.60,197.36 L236.95,195.12 L239.21,192.66 L241.37,189.97 L243.41,187.09 L245.33,184.01 L247.11,180.76 L248.75,177.35 L250.25,173.80 L251.58,170.13 L252.75,166.35 L253.75,162.48 L254.57,158.54 L255.22,154.55 L255.68,150.53 L255.96,146.50Z" fill="none" stroke="rgb(0,0,255)" stroke-opacity="1" stroke-width="0.9"/>
<path d="M240.60,147.47 L240.54,144.95 L240.37,142.46 L240.08,140.01 L239.69,137.61 L239.18,135.27 L238.56,133.00 L237.84,130.81 L237.01,128.72 L236.09,126.72 L235.08,124.85 L233.98,123.09 L232.79,121.47 L231.53,119.98 L230.20,118.65 L228.80,117.46 L227.35,116.43 L225.84,115.57 L224.29,114.87 L222.71,114.35 L221.10,114.00 L219.47,113.82 L217.82,113.82 L216.18,114.00 L214.53,114.35 L212.90,114.88 L211.29,115.57 L209.71,116.44 L208.16,117.47 L206.65,118.65 L205.20,119.99 L203.80,121.48 L202.47,123.10 L201.21,124.86 L200.02,126.74 L198.92,128.73 L197.91,130.82 L196.99,133.01 L196.16,135.28 L195.44,137.63 L194.82,140.03 L194.31,142.48 L193.92,144.97 L193.63,147.48 L193.46,150.01 L193.40,152.53 L193.46,155.05 L193.63,157.54 L193.92,159.99 L194.31,162.39 L194.82,164.73 L195.44,167.00 L196.16,169.19 L196.99,171.28 L197.91,173.28 L198.92,175.15 L200.02,176.91 L201.21,178.53 L202.47,180.02 L203.80,181.35 L205.20,182.54 L206.65,183.57 L208.16,184.43 L209.71,185.13 L211.29,185.65 L212.90,186.00 L214.53,186.18 L216.18,186.18 L217.82,186.00 L219.47,185.65 L221.10,185.12 L222.71,184.43 L224.29,183.56 L225.84,182.53 L227.35,181.35 L228.80,180.01 L230.20,178.52 L231.53,176.90 L232.79,175.14 L233.98,173.26 L235.08,171.27 L236.09,169.18 L237.01,166.99 L237.84,164.72 L238.56,162.37 L239.18,159.97 L239.69,157.52 L240.08,155.03 L240.37,152.52 L240.54,149.99Z" fill="none" stroke="rgb(0,0,255)" stroke-opacity="1" stroke-width="0.9"/>
<path d="M72.29,260.50v-3.00M72.29,9.20v3.00M80.67,260.50v-3.00M80.67,9.20v3.00M89.06,260.50v-3.00M89.06,9.20v3.00M97.45,260.50v-3.00M97.45,9.20v3.00M105.83,260.50v-6.00M105.83,9.20v6.00M114.22,260.50v-3.00M114.22,9.20v3.00M122.61,260.50v-3.00M122.61,9.20v3.00M130.99,260.50v-3.00M130.99,9.20v3.00M139.38,260.50v-3.00M139.38,9.20v3.00M147.77,260.50v-6.00M147.77,9.20v6.00M156.15,260.50v-3.00M156.15,9.20v3.00M164.54,260.50v-3.00M164.54,9.20v3.00M172.93,260.50v-3.00M172.93,9.20v3.00M181.31,260.50v-3.00M181.31,9.20v3.00M189.70,260.50v-6.00M189.70,9.20v6.00M198.09,260.50v-3.00M198.09,9.20v3.00M206.47,260.50v-3.00M206.47,9.20v3.00M214.86,260.50v-3.00M214.86,9.20v3.00M223.25,260.50v-3.00M223.25,9.20v3.00M231.63,260.50v-6.00M231.63,9.20v6.00M240.02,260.50v-3.00M240.02,9.20v3.00M248.41,260.50v-3.00M248.41,9.20v3.00M256.79,260.50v-3.00M256.79,9.20v3.00M265.18,260.50v-3.00M265.18,9.20v3.00M273.57,260.50v-6.00M273.57,9.20v6.00M281.95,260.50v-3.00M281.95,9.20v3.00M290.34,260.50v-3.00M290.34,9.20v3.00M298.73,260.50v-3.00M298.73,9.20v3.00M307.11,260.50v-3.00M307.11,9.20v3.00M63.90,252.12h3.00M315.50,252.12h-3.00M63.90,243.75h3.00M315.50,243.75h-3.00M63.90,235.37h3.00M315.50,235.37h-3.00M63.90,226.99h6.00M315.50,226.99h-6.00M63.90,218.62h3.00M315.50,218.62h-3.00M63.90,210.24h3.00M315.50,210.24h-3.00M63.90,201.86h3.00M315.50,201.86h-3.00M63.90,193.49h6.00M315.50,193.49h-6.00M63.90,185.11h3.00M315.50,185.11h-3.00M63.90,176.73h3.00M315.50,176.73h-3.00M63.90,168.36h3.00M315.50,168.36h-3.00M63.90,159.98h6.00M315.50,159.98h-6.00M63.90,151.60h3.00M315.50,151.60h-3.00M63.90,143.23h3.00M315.50,143.23h-3.00M63.90,134.85h3.00M315.50,134.85h-3.00M63.90,126.47h6.00M315.50,126.47h-6.00M63.90,118.10h3.00M315.50,118.10h-3.00M63.90,109.72h3.00M315.50,109.72h-3.00M63.90,101.34h3.00M315.50,101.34h-3.00M63.90,92.97h6.00M315.50,92.97h-6.00M63.90,84.59h3.00M315.50,84.59h-3.00M63.90,76.21h3.00M315.50,76.21h-3.00M63.90,67.84h3.00M315.50,67.84h-3.00M63.90,59.46h6.00M315.50,59.46h-6.00M63.90,51.08h3.00M315.50,51.08h-3.00M63.90,42.71h3.00M315.50,42.71h-3.00M63.90,34.33h3.00M315.50,34.33h-3.00M63.90,25.95h6.00M315.50,25.95h-6.00" stroke="#222" stroke-width="1.0" fill="none"/>
<rect x="63.90" y="9.20" width="251.60" height="251.30" fill="none" stroke="#222" stroke-width="1.1"/>
<g font-family="Liberation Serif, serif" font-size="16.4" fill="#111" stroke="#111" stroke-width="0.25">
<text x="63.90" y="278.80" text-anchor="middle" font-size="16.6">0.93</text>
<text x="105.83" y="278.80" text-anchor="middle" font-size="16.6">0.94</text>
<text x="147.77" y="278.80" text-anchor="middle" font-size="16.6">0.95</text>
<text x="189.70" y="278.80" text-anchor="middle" font-size="16.6">0.96</text>
<text x="231.63" y="278.80" text-anchor="middle" font-size="16.6">0.97</text>
<text x="273.57" y="278.80" text-anchor="middle" font-size="16.6">0.98</text>
<text x="315.50" y="278.80" text-anchor="middle" font-size="16.6">0.99</text>
<text x="60.80" y="267.10" text-anchor="end">2.98</text>
<text x="60.80" y="233.39" text-anchor="end">3.00</text>
<text x="60.80" y="199.89" text-anchor="end">3.02</text>
<text x="60.80" y="166.38" text-anchor="end">3.04</text>
<text x="60.80" y="132.87" text-anchor="end">3.06</text>
<text x="60.80" y="99.37" text-anchor="end">3.08</text>
<text x="60.80" y="65.86" text-anchor="end">3.10</text>
<text x="60.80" y="32.35" text-anchor="end">3.12</text>
</g>
<rect x="72.00" y="17.60" width="42.40" height="8.30" fill="#8080ff"/>
<text x="117.80" y="25.80" font-family="Liberation Serif, serif" font-size="11.7" font-weight="bold" fill="#0000b0"  textLength="163.2" lengthAdjust="spacingAndGlyphs">TT,TE,EE+lowE+lensing+BAO</text>
<rect x="72.00" y="34.40" width="42.40" height="8.30" fill="#ff8080"/>
<text x="117.80" y="42.60" font-family="Liberation Serif, serif" font-size="11.7" font-weight="bold" fill="#b00000"  textLength="131.4" lengthAdjust="spacingAndGlyphs">TT,TE,EE+lowE+lensing</text>
<rect x="72.00" y="51.20" width="42.40" height="8.30" fill="#bfbfbf"/>
<text x="117.80" y="59.40" font-family="Liberation Serif, serif" font-size="11.7" font-weight="normal" fill="#505050" stroke="#505050" stroke-width="0.35" textLength="88.2" lengthAdjust="spacingAndGlyphs">TT,TE,EE+lowE</text>
<text x="182.0" y="307.3" font-family="Liberation Serif, serif" font-style="italic" font-size="17.3" fill="#000" stroke="#000" stroke-width="0.3">n<tspan font-size="15.3" dy="3">s</tspan></text>
<g transform="translate(22.8,136.4) rotate(-90)"><text x="0" y="0" text-anchor="middle" font-family="Liberation Serif, serif" font-size="19.6" fill="#000"><tspan font-style="italic">ℓog</tspan>(10<tspan font-size="13.8" dy="-7">10</tspan><tspan dy="7" font-style="italic">A</tspan><tspan font-size="13.8" dy="3" font-style="italic">s</tspan><tspan dy="-3">)</tspan></text></g>
</svg>
</body></html>
